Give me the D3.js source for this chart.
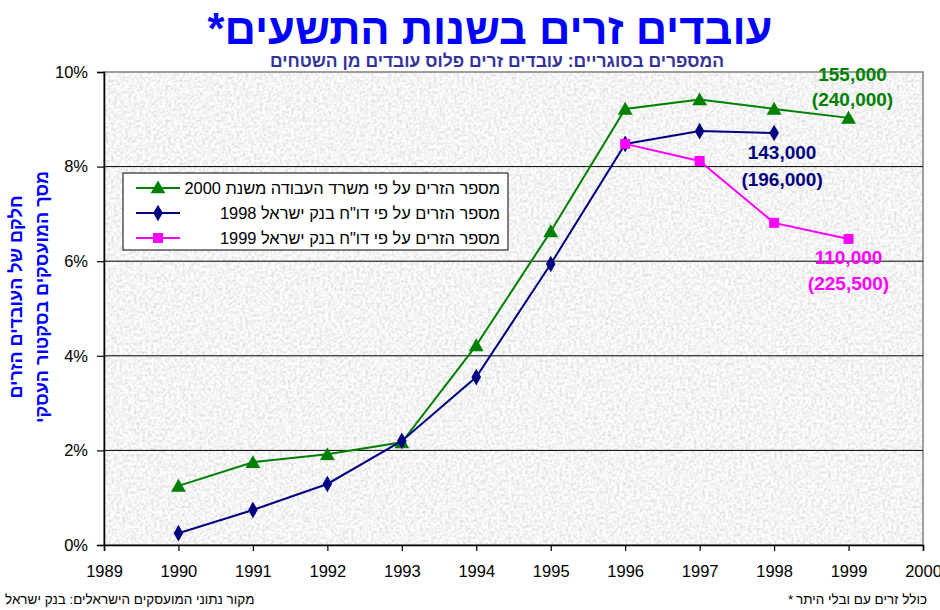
<!DOCTYPE html>
<html>
<head>
<meta charset="utf-8">
<script src="https://cdn.jsdelivr.net/npm/d3@7"></script>
<style>
  body { margin: 0; background: #fff; }
  svg { font-family: Arial, "Liberation Sans", sans-serif; }
</style>
</head>
<body>
<div id="chart"></div>
<script>
// data (share of foreign workers, %)
var years = [1990, 1991, 1992, 1993, 1994, 1995, 1996, 1997, 1998, 1999];
var laborMinistry2000 = [1.25, 1.75, 1.92, 2.17, 4.22, 6.63, 9.22, 9.42, 9.22, 9.03];
var bankIsrael1998Years = [1990, 1991, 1992, 1993, 1994, 1995, 1996, 1997, 1998];
var bankIsrael1998 = [0.25, 0.74, 1.29, 2.2, 3.55, 5.94, 8.48, 8.75, 8.71];
var bankIsrael1999Years = [1996, 1997, 1998, 1999];
var bankIsrael1999 = [8.48, 8.12, 6.81, 6.47];
var yTicks = [0, 2, 4, 6, 8, 10];
var xTicks = [1989, 1990, 1991, 1992, 1993, 1994, 1995, 1996, 1997, 1998, 1999, 2000];

var seriesNames = [
    "מספר הזרים על פי משרד העבודה משנת 2000",
    "מספר הזרים על פי דו\"ח בנק ישראל 1998",
    "מספר הזרים על פי דו\"ח בנק ישראל 1999"
];
var seriesColors = ["#008000", "#000080", "#ff00ff"];
var seriesMarkers = [d3.symbolTriangle, d3.symbolDiamond, d3.symbolSquare];

var width = 940, height = 610;
var margin = { top: 72, right: 17, bottom: 65, left: 104 };

var svg = d3.select("#chart").append("svg")
    .attr("width", width).attr("height", height);

//granite like texture for plot area
var defs = svg.append("defs");
var filter = defs.append("filter").attr("id", "granite")
    .attr("x", 0).attr("y", 0).attr("width", 1).attr("height", 1);
filter.append("feTurbulence").attr("type", "fractalNoise")
    .attr("baseFrequency", 0.35).attr("numOctaves", 3).attr("seed", 4);
filter.append("feColorMatrix").attr("type", "matrix")
    .attr("values", "0.55 0 0 0 0.63  0.55 0 0 0 0.63  0.55 0 0 0 0.63  0 0 0 0 1");

var x = d3.scaleLinear().domain([1989, 2000]).range([margin.left, width - margin.right]);
var y = d3.scaleLinear().domain([0, 10]).range([height - margin.bottom, margin.top]);

svg.append("rect")
    .attr("x", x(1989)).attr("y", y(10))
    .attr("width", x(2000) - x(1989)).attr("height", y(0) - y(10))
    .attr("filter", "url(#granite)");

svg.append("rect")
    .attr("x", x(1989)).attr("y", y(10))
    .attr("width", x(2000) - x(1989)).attr("height", y(0) - y(10))
    .attr("fill", "none").attr("stroke", "#808080").attr("stroke-width", 1.5);

//gridlines
svg.append("g").selectAll("line")
    .data(yTicks.filter(function (d) { return d > 0 && d < 10; }))
    .enter().append("line")
    .attr("x1", x(1989)).attr("x2", x(2000))
    .attr("y1", function (d) { return y(d); }).attr("y2", function (d) { return y(d); })
    .attr("stroke", "#000").attr("stroke-width", 1);

//axes
var yAxis = d3.axisLeft(y).tickValues(yTicks).tickSize(7).tickPadding(9)
    .tickFormat(function (d) { return d + "%"; });
var yG = svg.append("g").attr("transform", "translate(" + x(1989) + ",0)").call(yAxis);

var xAxis = d3.axisBottom(x).tickValues(xTicks).tickSize(6).tickPadding(14)
    .tickFormat(d3.format("d"));
var xG = svg.append("g").attr("transform", "translate(0," + y(0) + ")").call(xAxis);

[yG, xG].forEach(function (g) {
    g.select(".domain").attr("stroke", "#000").attr("stroke-width", 1.5);
    g.selectAll(".tick line").attr("stroke", "#000").attr("stroke-width", 1.2);
    g.selectAll("text").attr("font-size", 16.5).attr("fill", "#000")
        .attr("font-family", "Arial, 'Liberation Sans', sans-serif");
});

//series
var seriesData = [
    years.map(function (yr, i) { return { x: yr, v: laborMinistry2000[i] }; }),
    bankIsrael1998Years.map(function (yr, i) { return { x: yr, v: bankIsrael1998[i] }; }),
    bankIsrael1999Years.map(function (yr, i) { return { x: yr, v: bankIsrael1999[i] }; })
];

var line = d3.line().x(function (d) { return x(d.x); }).y(function (d) { return y(d.v); });
var markerSizes = [95, 80, 100];

seriesData.forEach(function (data, s) {
    var g = svg.append("g");
    g.append("path").datum(data).attr("d", line)
        .attr("fill", "none").attr("stroke", seriesColors[s]).attr("stroke-width", 2);
    g.selectAll("path.mark").data(data).enter().append("path").attr("class", "mark")
        .attr("transform", function (d) {
            var dy = s === 0 ? 1.5 : 0;
            return "translate(" + x(d.x) + "," + (y(d.v) + dy) + ")";
        })
        .attr("d", d3.symbol().type(seriesMarkers[s]).size(markerSizes[s]))
        .attr("fill", seriesColors[s]);
});

//end labels (numbers of workers)
var endLabels = [
    { year: 1999, color: seriesColors[0], lines: ["155,000", "(240,000)"], ys: [81, 106], dx: 4 },
    { year: 1998, color: seriesColors[1], lines: ["143,000", "(196,000)"], ys: [159, 186], dx: 8 },
    { year: 1999, color: seriesColors[2], lines: ["110,000", "(225,500)"], ys: [264, 290], dx: 0 }
];
endLabels.forEach(function (lab) {
    lab.lines.forEach(function (t, i) {
        svg.append("text")
            .attr("x", x(lab.year) + lab.dx).attr("y", lab.ys[i])
            .attr("text-anchor", "middle")
            .attr("font-size", 19).attr("font-weight", "bold")
            .attr("fill", lab.color).text(t);
    });
});

//legend
var legend = svg.append("g").attr("transform", "translate(123,173)");
legend.append("rect").attr("width", 385).attr("height", 77)
    .attr("fill", "#fff").attr("stroke", "#000").attr("stroke-width", 1);
seriesNames.forEach(function (name, s) {
    var ly = 15 + s * 25;
    legend.append("line").attr("x1", 13).attr("x2", 57).attr("y1", ly).attr("y2", ly)
        .attr("stroke", seriesColors[s]).attr("stroke-width", 2);
    legend.append("path").attr("transform", "translate(35," + (ly + (s === 0 ? 1 : 0)) + ")")
        .attr("d", d3.symbol().type(seriesMarkers[s]).size(markerSizes[s]))
        .attr("fill", seriesColors[s]);
    legend.append("text").attr("x", 377).attr("y", ly + 6)
        .attr("text-anchor", "end").attr("font-size", 16.4).attr("fill", "#000")
        .text(name);
});

//titles
svg.append("text").attr("x", 490).attr("y", 44)
    .attr("text-anchor", "middle").attr("direction", "rtl")
    .attr("font-size", 43.5).attr("font-weight", "bold").attr("fill", "#0000ff")
    .text("עובדים זרים בשנות התשעים*");

svg.append("text").attr("x", 497).attr("y", 67)
    .attr("text-anchor", "middle").attr("direction", "rtl")
    .attr("font-size", 17.5).attr("font-weight", "bold").attr("fill", "#333399")
    .text("המספרים בסוגריים: עובדים זרים פלוס עובדים מן השטחים");

//y axis title, two lines
var yTitle = ["חלקם של העובדים הזרים", "מסך המועסקים בסקטור העסקי"];
yTitle.forEach(function (t, i) {
    svg.append("text")
        .attr("transform", "translate(" + (21.5 + i * 26) + ",297) rotate(-90)")
        .attr("text-anchor", "middle").attr("direction", "rtl")
        .attr("font-size", 18).attr("font-weight", "bold").attr("fill", "#0000ff")
        .text(t);
});

//footnotes
svg.append("text").attr("x", 5).attr("y", 604)
    .attr("font-size", 13.5).attr("fill", "#000")
    .text("מקור נתוני המועסקים הישראלים: בנק ישראל");
//asterisk drawn on its own so it stays at the left of the note
svg.append("text").attr("x", 788).attr("y", 604)
    .attr("font-size", 13.5).attr("fill", "#000")
    .text("*");
svg.append("text").attr("x", 927).attr("y", 604)
    .attr("text-anchor", "end")
    .attr("font-size", 13.5).attr("fill", "#000")
    .text("כולל זרים עם ובלי היתר");
</script>
</body>
</html>
